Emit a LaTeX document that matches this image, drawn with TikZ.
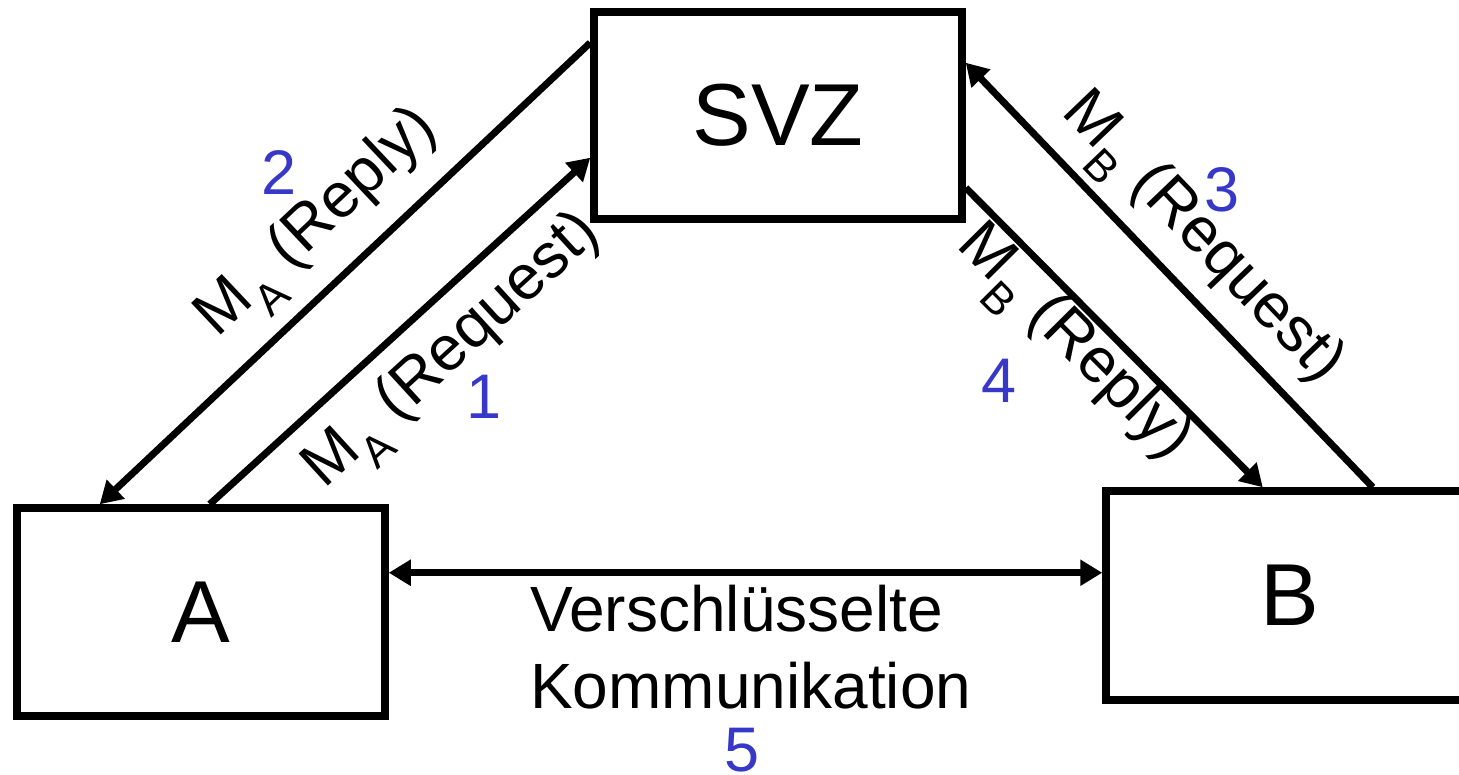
\documentclass[tikz,border=0pt]{standalone}
\usepackage{fontspec}
\setmainfont{Liberation Sans}
\usetikzlibrary{arrows.meta,calc}
\definecolor{numblue}{RGB}{56,56,200}
\tikzset{
  box/.style={draw=black, line width=7.5pt, rectangle, minimum width=368pt, minimum height=207pt, inner sep=0pt, font=\fontsize{88}{100}\selectfont},
  conn/.style={line width=7pt},
  arr/.style={conn, -{Triangle[length=22pt,width=25pt]}},
  darr/.style={conn, {Triangle[length=22pt,width=25pt]}-{Triangle[length=22pt,width=25pt]}},
  lbl/.style={font=\fontsize{63}{70}\selectfont, inner sep=0pt, anchor=center},
  num/.style={font=\fontsize{63}{70}\selectfont, text=numblue, inner sep=0pt, anchor=center},
}
\begin{document}
\begin{tikzpicture}[x=1pt,y=-1pt]
\useasboundingbox (0,0) rectangle (1459,775);
\clip (0,0) rectangle (1459,775);
\node[box] (svz) at (778,115.5) {SVZ};
\node[box, minimum height=208pt] (a) at (201,612) {A};
\node[box, minimum height=209pt] (b) at (1290,595.5) {B};
% connectors
\draw[arr] ($(svz.north west)+(0,34.5)$) -- ($(a.north west)+(86.5,0)$);
\draw[arr] ($(a.north west)+(196.5,0)$) -- ($(svz.north west)+(0,149.5)$);
\draw[arr] ($(b.north west)+(270.5,0)$) -- ($(svz.north east)+(0,54.5)$);
\draw[arr] ($(svz.north east)+(0,179.5)$) -- ($(b.north west)+(160.5,0)$);
\coordinate (h) at ($(a.north east)+(0,68.5)$);
\draw[darr] (h) -- (h -| b.west);
% labels
\node[lbl, rotate=43.3] (l2) at (320,226) {M\textsubscript{A} (Reply)};
\node[lbl, rotate=42.4] (l1) at (455,354) {M\textsubscript{A} (Request)};
\node[lbl, rotate=-46.2] (l3) at (1199,241) {M\textsubscript{B} (Request)};
\node[lbl, rotate=-45.2] (l4) at (1071,346) {M\textsubscript{B} (Reply)};
\node[lbl, align=left, anchor=north west, font=\fontsize{64}{77}\selectfont] (txt) at (530,585) {Verschlüsselte\\Kommunikation};
% numbers
\node[num] (n1) at (484,397) {1};
\node[num] (n2) at (279,173) {2};
\node[num] (n3) at (1222,190) {3};
\node[num] (n4) at (999,381) {4};
\node[num] (n5) at (742,750) {5};
\end{tikzpicture}
\end{document}
